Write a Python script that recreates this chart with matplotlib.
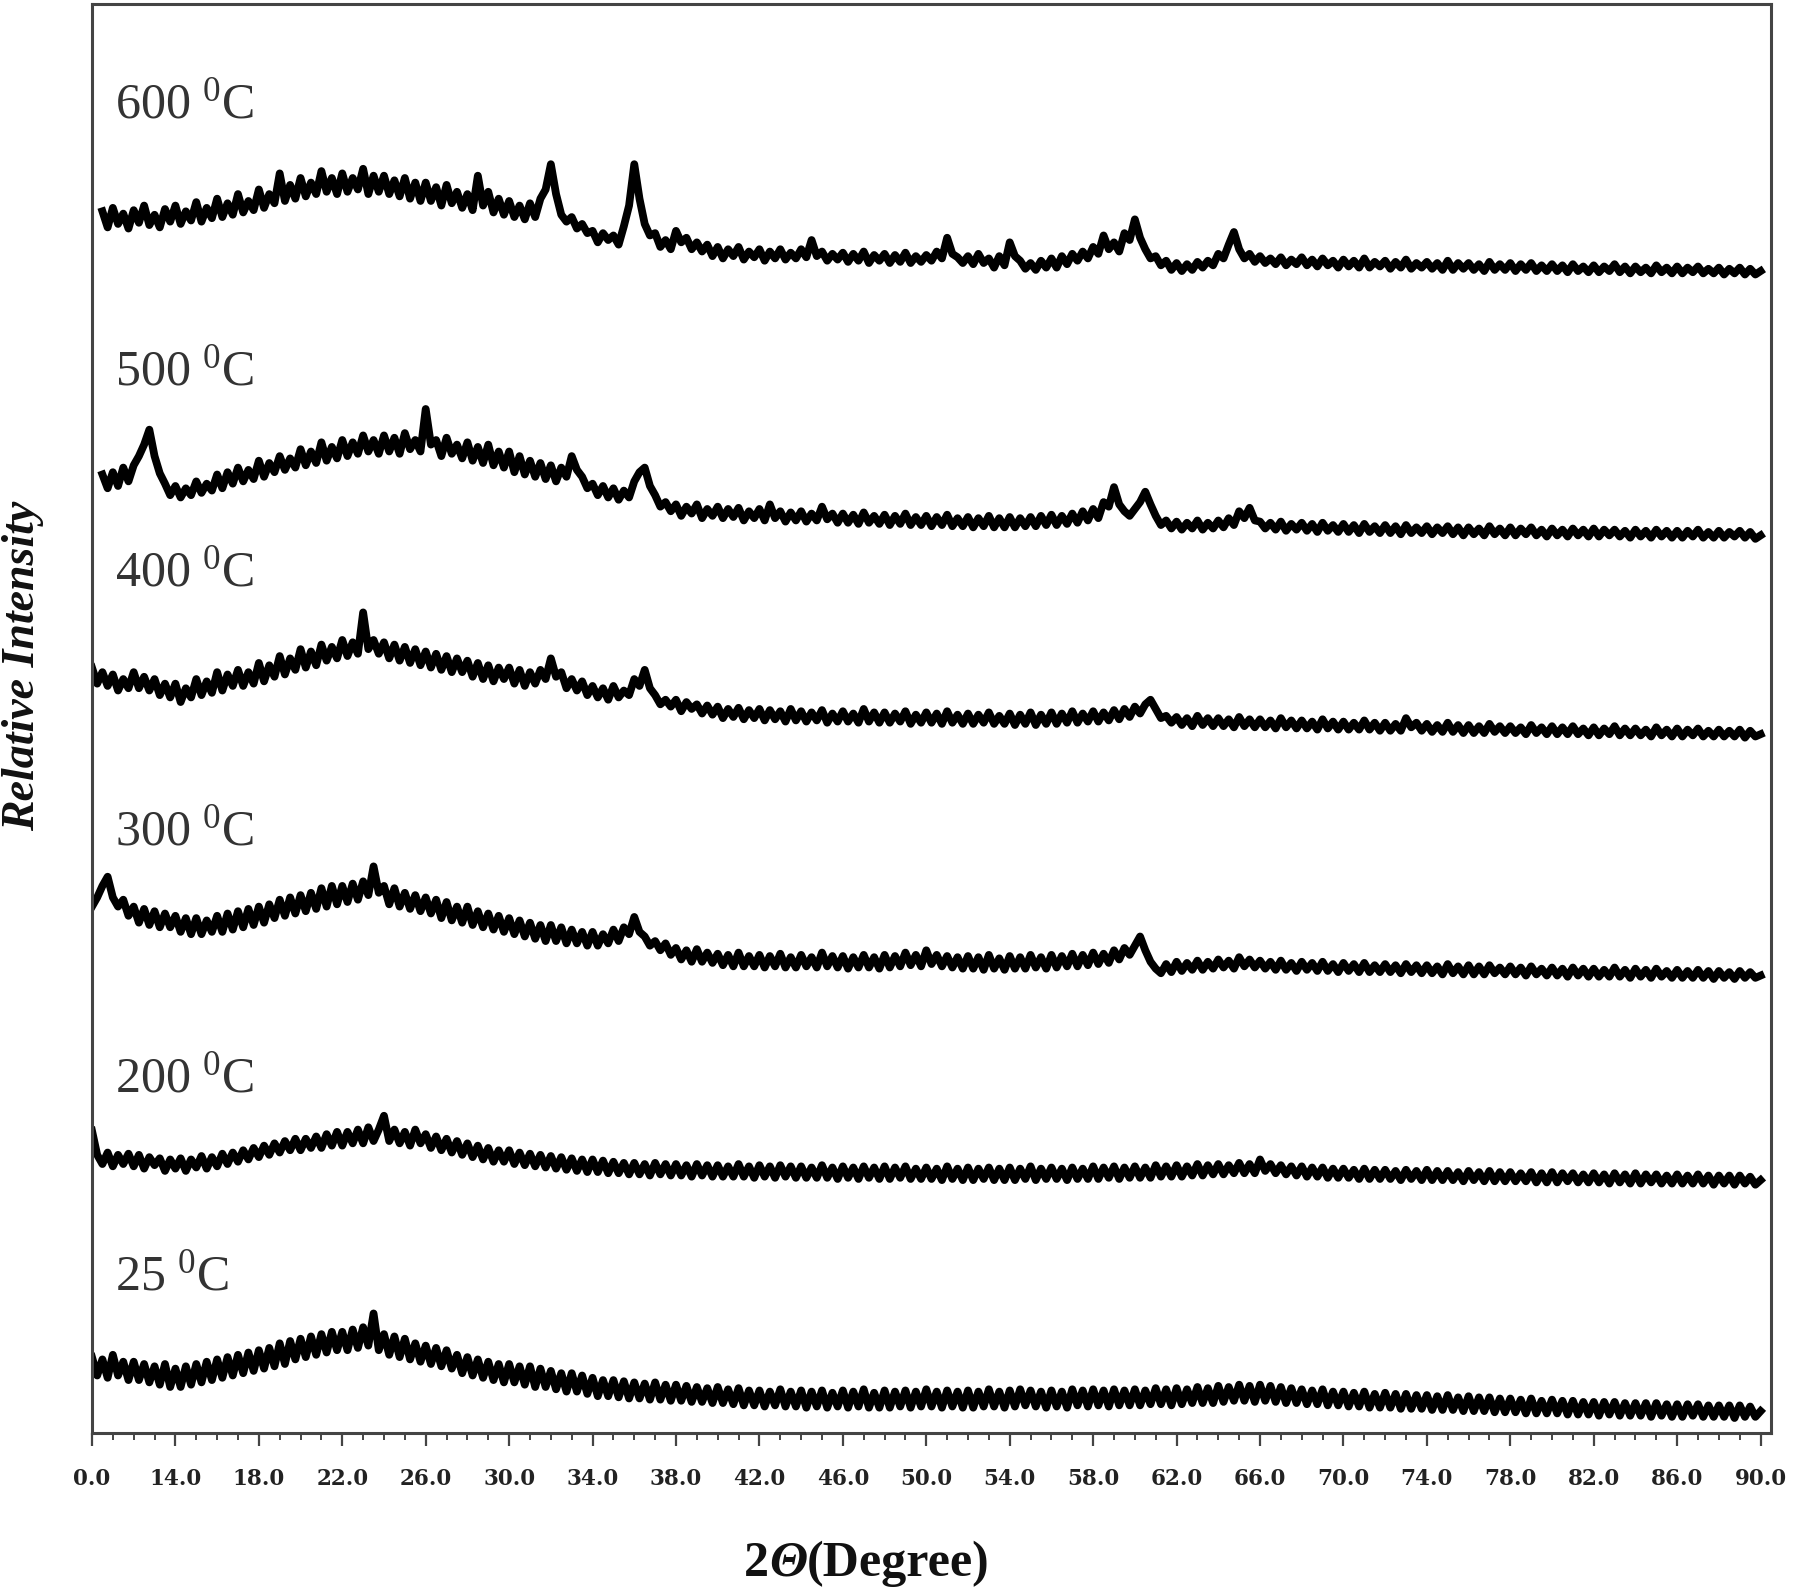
import numpy as np
import matplotlib
matplotlib.use("Agg")
import matplotlib.pyplot as plt

plt.rcParams['mathtext.fontset'] = 'custom'
plt.rcParams['mathtext.rm'] = 'Liberation Serif'
plt.rcParams['mathtext.it'] = 'Liberation Serif:italic'
plt.rcParams['mathtext.bf'] = 'Liberation Serif:bold'

nan = np.nan

# 2-theta sampling (degrees), 0.25 degree steps from 10 to 90
two_theta = np.linspace(10.0, 90.0, 321)

tick_positions = [10, 14, 18, 22, 26, 30, 34, 38, 42, 46, 50, 54, 58, 62, 66, 70, 74, 78, 82, 86, 90]
tick_labels = ["0.0", "14.0", "18.0", "22.0", "26.0", "30.0", "34.0", "38.0", "42.0", "46.0", "50.0",
               "54.0", "58.0", "62.0", "66.0", "70.0", "74.0", "78.0", "82.0", "86.0", "90.0"]

sample_labels = ["600", "500", "400", "300", "200", "25"]
offsets = [1008, 780, 606, 396, 218, 16]
label_heights = [1155, 923, 748, 523, 308, 135]

i_600 = [nan, nan, 55, 41, 58, 44, 53, 40,
         56, 45, 60, 43, 52, 41, 57, 46,
         60, 44, 55, 47, 63, 46, 58, 49,
         66, 50, 62, 52, 70, 54, 64, 56,
         74, 58, 70, 62, 88, 64, 78, 66,
         84, 68, 80, 70, 90, 72, 84, 70,
         88, 72, 84, 74, 92, 70, 86, 72,
         86, 70, 82, 68, 84, 66, 80, 64,
         80, 64, 76, 60, 78, 62, 72, 58,
         70, 56, 86, 60, 72, 54, 66, 52,
         64, 50, 60, 48, 62, 50, 66, 74,
         96, 70, 52, 46, 50, 40, 44, 36,
         38, 28, 36, 30, 34, 26, 42, 60,
         96, 66, 44, 34, 36, 24, 30, 22,
         38, 28, 32, 22, 28, 20, 26, 16,
         24, 14, 22, 16, 24, 13, 20, 15,
         22, 12, 20, 14, 22, 13, 19, 14,
         22, 15, 30, 16, 20, 12, 18, 13,
         19, 11, 18, 12, 20, 10, 17, 12,
         18, 10, 17, 11, 19, 10, 16, 11,
         17, 12, 20, 14, 32, 18, 15, 10,
         16, 9, 18, 10, 14, 6, 16, 8,
         28, 16, 12, 5, 10, 4, 12, 6,
         14, 6, 16, 9, 18, 12, 20, 14,
         24, 18, 34, 22, 28, 20, 36, 30,
         48, 32, 22, 14, 16, 8, 12, 4,
         10, 3, 9, 4, 11, 6, 12, 8,
         18, 14, 26, 37, 22, 14, 18, 11,
         16, 10, 14, 9, 15, 8, 13, 9,
         15, 8, 13, 7, 14, 8, 12, 6,
         13, 7, 12, 6, 14, 6, 11, 7,
         12, 5, 11, 6, 13, 5, 10, 6,
         11, 5, 10, 4, 12, 4, 10, 5,
         10, 4, 9, 3, 11, 4, 9, 4,
         10, 3, 9, 4, 10, 3, 8, 3,
         9, 3, 8, 2, 9, 3, 7, 2,
         8, 2, 7, 3, 9, 2, 7, 1,
         7, 2, 6, 1, 8, 2, 6, 1,
         7, 1, 6, 2, 7, 1, 5, 1,
         6, 0, 5, 1, 6, 0, 5, 0,
         3]

i_500 = [nan, nan, 54, 42, 56, 44, 60, 48,
         62, 70, 80, 93, 70, 55, 46, 36,
         44, 34, 42, 36, 48, 38, 46, 40,
         54, 42, 56, 46, 60, 48, 58, 50,
         66, 52, 64, 56, 70, 58, 68, 60,
         76, 62, 74, 64, 82, 66, 78, 68,
         84, 70, 82, 72, 88, 74, 84, 72,
         88, 74, 86, 72, 90, 76, 84, 74,
         111, 80, 84, 70, 86, 72, 80, 68,
         82, 66, 78, 64, 80, 62, 74, 60,
         74, 56, 70, 54, 66, 52, 64, 50,
         62, 48, 60, 52, 70, 58, 52, 42,
         46, 36, 44, 34, 42, 32, 40, 34,
         48, 56, 60, 44, 36, 26, 30, 22,
         28, 18, 26, 20, 28, 16, 24, 18,
         26, 16, 24, 17, 25, 14, 22, 16,
         24, 14, 28, 16, 22, 13, 21, 14,
         22, 13, 20, 14, 26, 15, 20, 12,
         20, 12, 19, 11, 21, 12, 18, 11,
         19, 10, 18, 11, 20, 10, 17, 10,
         18, 9, 17, 10, 19, 9, 16, 9,
         17, 8, 16, 9, 18, 8, 16, 8,
         17, 8, 16, 9, 17, 9, 18, 10,
         19, 10, 18, 11, 20, 12, 22, 14,
         24, 16, 30, 26, 43, 28, 22, 18,
         24, 30, 39, 28, 18, 10, 14, 7,
         13, 6, 12, 7, 14, 6, 12, 7,
         14, 8, 16, 10, 22, 16, 25, 14,
         13, 7, 12, 6, 13, 5, 11, 6,
         12, 5, 11, 4, 12, 5, 10, 4,
         11, 4, 10, 3, 11, 4, 9, 3,
         10, 3, 9, 2, 10, 3, 8, 3,
         9, 2, 8, 3, 9, 2, 8, 1,
         8, 2, 7, 1, 9, 2, 7, 1,
         8, 1, 7, 2, 8, 1, 6, 0,
         7, 1, 6, 0, 7, 1, 6, 0,
         7, 0, 6, 1, 6, 0, 5, -1,
         6, 0, 5, -1, 6, 0, 5, -1,
         5, -1, 5, 0, 6, -1, 4, -1,
         5, -1, 4, 0, 5, -1, 4, -2,
         1]

i_400 = [60, 46, 56, 44, 54, 40, 50, 42,
         56, 42, 52, 40, 50, 36, 46, 34,
         46, 30, 42, 34, 50, 36, 48, 38,
         56, 40, 54, 44, 58, 44, 56, 46,
         64, 48, 62, 52, 70, 54, 68, 58,
         76, 60, 74, 62, 80, 66, 78, 68,
         84, 70, 82, 72, 108, 76, 84, 72,
         82, 68, 80, 66, 78, 64, 76, 62,
         74, 60, 72, 58, 70, 56, 68, 56,
         66, 52, 64, 50, 62, 48, 60, 50,
         60, 46, 58, 44, 56, 46, 58, 50,
         68, 52, 56, 42, 50, 40, 48, 36,
         44, 34, 42, 32, 44, 34, 40, 36,
         50, 44, 58, 42, 36, 28, 32, 26,
         32, 22, 30, 24, 28, 20, 27, 19,
         26, 16, 24, 17, 25, 15, 23, 16,
         24, 14, 23, 15, 22, 13, 24, 14,
         22, 13, 21, 14, 23, 12, 20, 13,
         22, 13, 20, 12, 24, 13, 21, 12,
         21, 12, 20, 13, 22, 11, 19, 12,
         21, 12, 20, 11, 22, 12, 19, 11,
         20, 11, 19, 12, 21, 11, 18, 11,
         20, 10, 19, 11, 21, 10, 19, 11,
         21, 11, 20, 12, 22, 12, 20, 13,
         22, 13, 21, 14, 23, 15, 24, 17,
         26, 20, 28, 32, 24, 16, 18, 12,
         17, 10, 16, 9, 18, 10, 16, 9,
         16, 9, 15, 8, 17, 9, 15, 8,
         15, 8, 14, 7, 16, 8, 14, 7,
         14, 7, 13, 6, 15, 7, 13, 6,
         13, 6, 12, 6, 14, 6, 12, 5,
         12, 5, 11, 5, 16, 8, 12, 5,
         11, 4, 10, 4, 12, 4, 10, 3,
         10, 3, 9, 3, 11, 4, 9, 3,
         9, 3, 8, 2, 10, 3, 8, 2,
         9, 2, 8, 2, 9, 2, 7, 1,
         8, 1, 7, 2, 9, 1, 7, 1,
         7, 1, 6, 0, 8, 1, 6, 0,
         7, 0, 6, 1, 7, 0, 5, 0,
         6, 0, 5, 0, 6, -1, 5, 0,
         2]

i_300 = [62, 70, 80, 88, 70, 62, 68, 54,
         62, 48, 60, 46, 58, 44, 56, 44,
         54, 40, 52, 38, 52, 38, 50, 40,
         54, 40, 56, 42, 58, 44, 60, 46,
         62, 48, 64, 52, 68, 54, 70, 56,
         72, 58, 74, 60, 78, 62, 80, 64,
         80, 66, 82, 68, 84, 72, 97, 74,
         80, 64, 78, 62, 74, 60, 72, 58,
         70, 56, 68, 52, 66, 50, 62, 48,
         62, 46, 58, 44, 56, 42, 54, 40,
         52, 38, 50, 36, 48, 34, 46, 32,
         46, 32, 44, 30, 42, 30, 40, 28,
         40, 28, 38, 30, 42, 32, 44, 38,
         53, 40, 36, 28, 32, 24, 30, 20,
         26, 16, 24, 14, 25, 14, 22, 13,
         21, 11, 20, 10, 22, 10, 19, 10,
         20, 9, 19, 10, 21, 9, 18, 9,
         20, 10, 18, 9, 22, 10, 19, 9,
         19, 8, 18, 9, 20, 9, 18, 8,
         20, 9, 19, 10, 22, 11, 20, 10,
         24, 12, 20, 10, 19, 9, 18, 8,
         19, 8, 18, 7, 20, 8, 17, 7,
         19, 8, 18, 8, 20, 9, 18, 8,
         20, 9, 19, 10, 21, 10, 20, 11,
         22, 12, 21, 13, 24, 16, 26, 20,
         28, 36, 24, 14, 8, 4, 12, 5,
         14, 6, 13, 7, 15, 7, 14, 8,
         16, 9, 15, 8, 18, 10, 16, 9,
         15, 8, 14, 7, 15, 7, 13, 6,
         14, 7, 13, 6, 14, 6, 12, 5,
         13, 6, 12, 5, 13, 5, 11, 5,
         12, 5, 11, 4, 12, 5, 11, 4,
         11, 4, 10, 3, 12, 4, 10, 3,
         11, 3, 10, 3, 11, 4, 9, 3,
         10, 3, 9, 2, 10, 3, 8, 2,
         9, 2, 8, 1, 9, 2, 8, 1,
         8, 1, 7, 1, 9, 1, 7, 0,
         8, 1, 7, 0, 8, 1, 6, 0,
         7, 0, 6, 0, 7, 0, 6, -1,
         6, 0, 5, -1, 6, 0, 5, 0,
         2]

i_200 = [45, 24, 16, 26, 14, 24, 16, 25,
         14, 24, 12, 22, 15, 21, 10, 20,
         12, 21, 10, 20, 13, 23, 12, 22,
         14, 25, 16, 26, 18, 28, 20, 30,
         22, 32, 24, 34, 26, 36, 28, 38,
         28, 38, 30, 40, 30, 42, 32, 44,
         32, 44, 34, 46, 34, 48, 36, 46,
         58, 36, 46, 34, 44, 32, 46, 34,
         42, 30, 40, 28, 38, 26, 36, 24,
         34, 22, 32, 20, 30, 18, 28, 18,
         28, 16, 26, 15, 25, 14, 24, 13,
         23, 12, 22, 11, 21, 10, 20, 9,
         20, 9, 19, 8, 18, 8, 17, 7,
         17, 7, 16, 6, 17, 7, 16, 6,
         16, 6, 15, 5, 16, 6, 15, 5,
         15, 5, 14, 5, 16, 5, 14, 4,
         15, 5, 14, 4, 15, 5, 14, 4,
         14, 4, 13, 4, 15, 4, 13, 3,
         14, 4, 13, 3, 14, 4, 13, 3,
         14, 3, 13, 4, 14, 3, 12, 3,
         13, 3, 12, 2, 14, 3, 12, 2,
         13, 2, 12, 3, 13, 2, 12, 2,
         13, 2, 12, 3, 14, 2, 12, 3,
         13, 3, 12, 2, 13, 3, 12, 3,
         14, 3, 13, 4, 14, 3, 13, 4,
         14, 4, 13, 4, 15, 5, 14, 5,
         15, 5, 14, 6, 16, 6, 15, 7,
         16, 7, 15, 8, 17, 8, 16, 8,
         20, 10, 16, 8, 15, 7, 14, 6,
         14, 5, 13, 5, 13, 4, 12, 4,
         12, 4, 11, 3, 12, 3, 11, 3,
         11, 3, 10, 2, 11, 3, 10, 2,
         11, 2, 10, 2, 10, 2, 9, 1,
         10, 2, 9, 1, 10, 1, 9, 1,
         9, 1, 8, 1, 9, 0, 8, 0,
         9, 0, 8, 1, 8, 0, 7, 0,
         8, 0, 7, -1, 8, 0, 7, -1,
         8, -1, 7, 0, 7, -1, 6, -1,
         7, -1, 6, -1, 7, -1, 6, -2,
         6, -1, 6, -2, 6, -1, 5, -2,
         2]

i_25 = [50, 34, 48, 32, 52, 34, 46, 30,
        46, 30, 44, 28, 42, 26, 44, 24,
        40, 24, 42, 26, 44, 28, 46, 30,
        48, 32, 50, 34, 52, 36, 54, 38,
        56, 40, 58, 42, 62, 44, 64, 48,
        66, 50, 68, 52, 70, 54, 72, 56,
        72, 56, 74, 58, 76, 60, 88, 56,
        70, 52, 68, 50, 66, 48, 62, 46,
        60, 44, 58, 42, 56, 40, 52, 36,
        50, 34, 48, 32, 46, 30, 44, 28,
        44, 28, 42, 26, 42, 24, 40, 24,
        38, 22, 36, 20, 36, 20, 34, 18,
        32, 16, 30, 16, 30, 15, 29, 14,
        28, 14, 27, 13, 28, 13, 26, 12,
        26, 12, 25, 11, 24, 11, 23, 10,
        24, 10, 22, 9, 23, 8, 21, 8,
        21, 7, 20, 8, 22, 7, 20, 7,
        21, 6, 20, 7, 21, 6, 19, 7,
        21, 6, 20, 7, 22, 6, 19, 6,
        21, 6, 20, 7, 21, 6, 20, 7,
        22, 7, 20, 6, 21, 7, 20, 6,
        21, 6, 20, 7, 22, 7, 20, 6,
        21, 7, 22, 8, 21, 7, 20, 6,
        21, 7, 20, 6, 22, 8, 21, 7,
        22, 8, 21, 7, 22, 8, 21, 8,
        22, 8, 21, 9, 23, 9, 22, 8,
        23, 9, 22, 10, 24, 10, 23, 10,
        25, 11, 24, 12, 26, 12, 25, 11,
        26, 12, 25, 11, 24, 10, 23, 10,
        22, 9, 21, 9, 22, 8, 20, 8,
        20, 7, 19, 7, 20, 6, 18, 6,
        19, 6, 18, 5, 18, 5, 17, 5,
        17, 4, 16, 4, 17, 4, 15, 3,
        16, 3, 15, 3, 15, 2, 14, 2,
        14, 2, 13, 1, 14, 1, 12, 1,
        13, 1, 12, 0, 12, 0, 11, 0,
        11, -1, 11, 0, 11, -1, 10, -1,
        10, -1, 10, -2, 10, -1, 9, -2,
        9, -2, 9, -1, 9, -2, 8, -2,
        8, -2, 8, -3, 8, -2, 7, -2,
        3]

series = [i_600, i_500, i_400, i_300, i_200, i_25]

W, H = 1800, 1589
fig = plt.figure(figsize=(W / 100, H / 100), dpi=100)
ax = fig.add_axes([0.0511, 0.0982, 0.9328, 0.8990])

for vals, off in zip(series, offsets):
    y = np.array(vals, dtype=float) + off
    ax.plot(two_theta, y, color='black', lw=5.6, solid_joinstyle='round')
    ax.plot(two_theta, y, color='black', lw=1.4, solid_joinstyle='miter')

for lab, h in zip(sample_labels, label_heights):
    ax.text(11.1, h, lab + r" $^{0}$C", fontsize=36, family='Liberation Serif',
            color='#333333', ha='left', va='center')

ax.set_xlim(10, 90.5)
ax.set_ylim(0, 1243)
ax.set_xticks(tick_positions)
ax.set_xticklabels(tick_labels, fontfamily='DejaVu Serif', fontweight='bold',
                   fontsize=15.5, color='#222222')
ax.set_xticks(np.arange(10, 91, 1), minor=True)
ax.tick_params(axis='x', which='major', direction='out', length=9, width=1.6,
               color='#444444', pad=16)
ax.tick_params(axis='x', which='minor', direction='out', length=5, width=1.4,
               color='#444444')
ax.set_yticks([])
for sp in ax.spines.values():
    sp.set_color('#444444')
    sp.set_linewidth(2.2)

fig.text(23 / W, 1 - 666 / H, "Relative Intensity", rotation=90,
         fontsize=33, family='Liberation Serif', fontweight='bold', fontstyle='italic',
         ha='center', va='center', color='#111111')

# x-axis label "2Θ(Degree)" with italic Θ, assembled from three pieces
parts = [("2", 'normal'), ("Θ", 'italic'), ("(Degree)", 'normal')]
texts = [fig.text(0, 0, s, fontsize=36, family='Liberation Serif', fontweight='bold',
                  fontstyle=st, ha='left', va='baseline', color='#111111')
         for s, st in parts]
fig.canvas.draw()
renderer = fig.canvas.get_renderer()
widths = [t.get_window_extent(renderer).width for t in texts]
x = 867 - sum(widths) / 2
for t, w in zip(texts, widths):
    t.set_position((x / W, 1 - 1576 / H))
    x += w

fig.savefig("out.png", dpi=100, facecolor='white')
